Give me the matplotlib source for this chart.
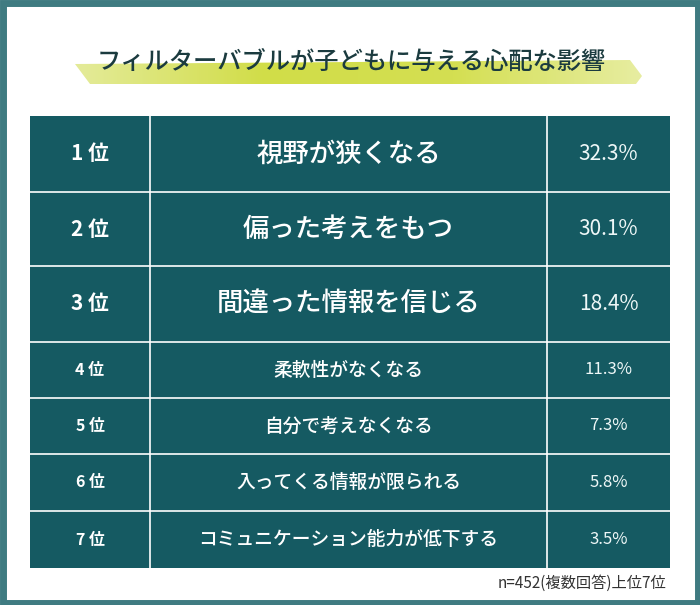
import matplotlib
matplotlib.use("Agg")
import matplotlib.pyplot as plt
from matplotlib.patches import Rectangle, Polygon
from matplotlib.colors import LinearSegmentedColormap
import numpy as np

plt.rcParams['font.family'] = ['Noto Sans CJK JP', 'DejaVu Sans']

# ---- data ----
ranks = [1, 2, 3, 4, 5, 6, 7]
items = ["視野が狭くなる", "偏った考えをもつ", "間違った情報を信じる",
         "柔軟性がなくなる", "自分で考えなくなる", "入ってくる情報が限られる",
         "コミュニケーション能力が低下する"]
percents = [32.3, 30.1, 18.4, 11.3, 7.3, 5.8, 3.5]
title = "フィルターバブルが子どもに与える心配な影響"
note = "n=452(複数回答)上位7位"

W, H = 700, 605
fig = plt.figure(figsize=(W / 100, H / 100), dpi=100)
ax = fig.add_axes([0, 0, 1, 1])
ax.set_xlim(0, W)
ax.set_ylim(H, 0)
ax.axis('off')

teal = "#155a62"
frame = "#3f7b81"

# outer frame
ax.add_patch(Rectangle((2.5, 2.5), W - 5, H - 5, fill=False, edgecolor=frame, lw=5))

# highlight stroke behind title
grad = np.linspace(0, 1, 256).reshape(1, -1)
cmap = LinearSegmentedColormap.from_list("hl", ["#e3ea94", "#cfdc3e", "#d2de48", "#e6ec9c"])
poly = Polygon([(75, 64), (630, 60), (642, 76), (636, 84), (90, 84)], closed=True,
               facecolor='none', edgecolor='none')
ax.add_patch(poly)
im = ax.imshow(grad, extent=(75, 642, 84, 60), cmap=cmap, aspect='auto', alpha=0.95, zorder=1)
im.set_clip_path(poly)

ax.text(351, 62, title, ha='center', va='center', fontsize=17.5, color="#1b3b3f",
        fontweight='medium', zorder=3)

# table
x0, x1, x2, x3 = 30, 150, 547, 670
row_h = [76, 74, 76, 56, 56, 57, 57]
y = 116
for i, (r, it, p) in enumerate(zip(ranks, items, percents)):
    h = row_h[i]
    ax.add_patch(Rectangle((x0, y), x3 - x0, h, facecolor=teal, edgecolor='none', zorder=2))
    big = i < 3
    cy = y + h / 2
    ax.text((x0 + x1) / 2, cy, f"{r} 位", ha='center', va='center',
            fontsize=15 if big else 11.5, color="white", fontweight='bold', zorder=3)
    ax.text((x1 + x2) / 2, cy, it, ha='center', va='center',
            fontsize=19 if big else 13.5, color="white", fontweight='medium', zorder=3)
    ax.text((x2 + x3) / 2, cy, f"{p:.1f}%", ha='center', va='center',
            fontsize=15 if big else 12, color="#eef7f7", fontweight='normal', zorder=3)
    if i > 0:
        ax.plot([x0, x3], [y, y], color='white', lw=1.2, zorder=4)
    y += h
for xv in (x1, x2):
    ax.plot([xv, xv], [116, y], color='white', lw=1.2, zorder=4)

ax.text(666, 583, note, ha='right', va='center', fontsize=11, color="#333333", zorder=3)

fig.savefig("out.png", dpi=100)
